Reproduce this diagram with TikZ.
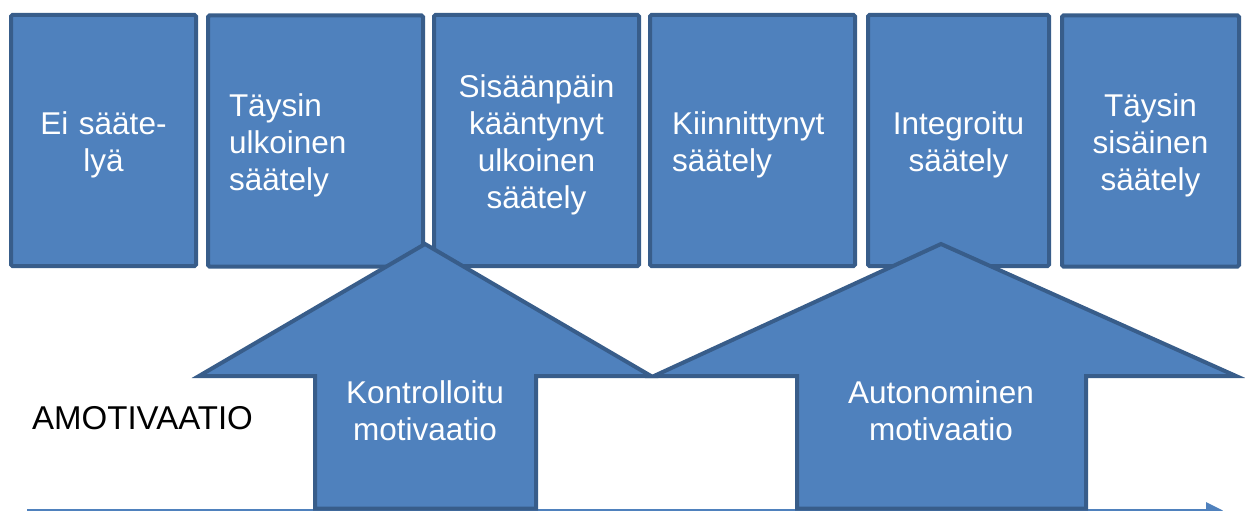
\documentclass[tikz,border=0pt]{standalone}
\usepackage{fontspec}
\setmainfont{Liberation Sans}
\usetikzlibrary{arrows.meta}

\definecolor{boxfill}{RGB}{79,129,189}
\definecolor{boxline}{RGB}{56,93,138}

\begin{document}
\begin{tikzpicture}[x=1pt, y=-1pt,
  font=\fontsize{31.5}{37}\selectfont,
  stage/.style={draw=boxline, fill=boxfill, line width=4pt,
    rounded corners=1.5pt, text=white, inner sep=0pt, minimum height=251pt,
    execute at begin node={\rule{0pt}{31pt}}},
  bigarrow/.style={draw=boxline, fill=boxfill, line width=4pt},
  arrowtext/.style={text=white, align=center, inner sep=0pt},
  axis/.style={draw=boxfill, line width=3pt,
    -{Triangle[length=17pt, width=16pt]}}]
  \useasboundingbox (0,0) rectangle (1245,511);

  % time line along the bottom
  \coordinate (axisstart) at (27,510.5);
  \coordinate (axisend) at (1223,510.5);
  \draw[axis] (axisstart) -- (axisend);

  % regulation styles
  \node[stage, minimum width=185pt, text width=165pt, align=center] (ei) at (103.5,140.5) {Ei sääte-\\lyä};
  \node[stage, minimum width=215pt, text width=173pt, align=left] (ulkoinen) at (315.5,141) {Täysin\\ulkoinen\\säätely};
  \node[stage, minimum width=205pt, text width=185pt, align=center] (sisaan) at (536.5,140.5) {Sisäänpäin\\kääntynyt\\ulkoinen\\säätely};
  \node[stage, minimum width=205pt, text width=161pt, align=left] (kiinn) at (752.5,140.5) {Kiinnittynyt\\säätely};
  \node[stage, minimum width=181pt, text width=165pt, align=center] (integ) at (958.5,140.5) {Integroitu\\säätely};
  \node[stage, minimum width=177pt, text width=160pt, align=center] (sisainen) at (1150.5,141) {Täysin\\sisäinen\\säätely};

  % controlled
  \draw[bigarrow] (425,244) -- (651,376) -- (536,376) -- (536,508.5)
    -- (315,508.5) -- (315,376) -- (199,376) -- cycle;
  \node[arrowtext] (kontr) at (425,411) {Kontrolloitu\\motivaatio};

  % autonomous
  \draw[bigarrow] (941,244) -- (1236,376) -- (1086,376) -- (1086,508.5)
    -- (797,508.5) -- (797,376) -- (654,376) -- cycle;
  \node[arrowtext] (auton) at (941,411) {Autonominen\\motivaatio};

  \node[anchor=west, inner sep=0pt, font=\fontsize{33}{37}\selectfont] (amot) at (32,418) {AMOTIVAATIO};
\end{tikzpicture}
\end{document}
